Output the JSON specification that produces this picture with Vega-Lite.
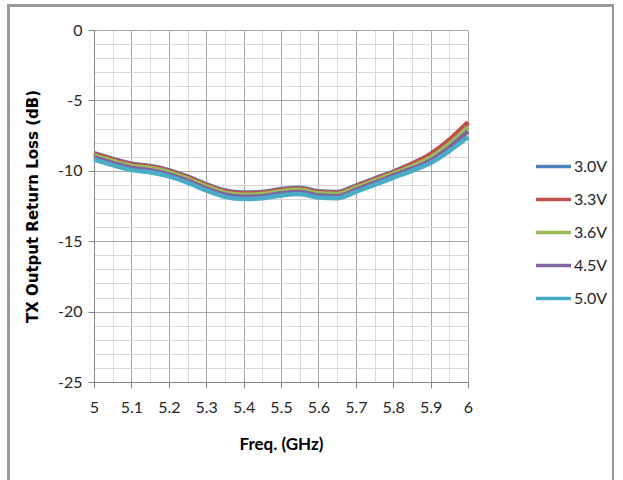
{
  "$schema": "https://vega.github.io/schema/vega-lite/v6.json",
  "autosize": "none",
  "width": 374,
  "height": 352,
  "padding": {"left": 94, "top": 30, "right": 155, "bottom": 98},
  "background": "white",
  "config": {"view": {"stroke": null}},
  "data": {"values": [
    {"f":5.00,"v":-8.75,"s":"3.0V"},{"f":5.05,"v":-9.15,"s":"3.0V"},{"f":5.10,"v":-9.50,"s":"3.0V"},{"f":5.15,"v":-9.65,"s":"3.0V"},{"f":5.20,"v":-9.95,"s":"3.0V"},{"f":5.25,"v":-10.40,"s":"3.0V"},{"f":5.30,"v":-10.95,"s":"3.0V"},{"f":5.35,"v":-11.40,"s":"3.0V"},{"f":5.40,"v":-11.55,"s":"3.0V"},{"f":5.45,"v":-11.50,"s":"3.0V"},{"f":5.50,"v":-11.30,"s":"3.0V"},{"f":5.55,"v":-11.20,"s":"3.0V"},{"f":5.60,"v":-11.45,"s":"3.0V"},{"f":5.65,"v":-11.50,"s":"3.0V"},{"f":5.70,"v":-11.05,"s":"3.0V"},{"f":5.75,"v":-10.55,"s":"3.0V"},{"f":5.80,"v":-10.05,"s":"3.0V"},{"f":5.85,"v":-9.50,"s":"3.0V"},{"f":5.90,"v":-8.85,"s":"3.0V"},{"f":5.95,"v":-7.85,"s":"3.0V"},{"f":6.00,"v":-6.60,"s":"3.0V"},
    {"f":5.00,"v":-8.80,"s":"3.3V"},{"f":5.05,"v":-9.20,"s":"3.3V"},{"f":5.10,"v":-9.55,"s":"3.3V"},{"f":5.15,"v":-9.70,"s":"3.3V"},{"f":5.20,"v":-10.00,"s":"3.3V"},{"f":5.25,"v":-10.45,"s":"3.3V"},{"f":5.30,"v":-11.00,"s":"3.3V"},{"f":5.35,"v":-11.45,"s":"3.3V"},{"f":5.40,"v":-11.60,"s":"3.3V"},{"f":5.45,"v":-11.55,"s":"3.3V"},{"f":5.50,"v":-11.35,"s":"3.3V"},{"f":5.55,"v":-11.25,"s":"3.3V"},{"f":5.60,"v":-11.50,"s":"3.3V"},{"f":5.65,"v":-11.55,"s":"3.3V"},{"f":5.70,"v":-11.10,"s":"3.3V"},{"f":5.75,"v":-10.60,"s":"3.3V"},{"f":5.80,"v":-10.10,"s":"3.3V"},{"f":5.85,"v":-9.50,"s":"3.3V"},{"f":5.90,"v":-8.80,"s":"3.3V"},{"f":5.95,"v":-7.80,"s":"3.3V"},{"f":6.00,"v":-6.55,"s":"3.3V"},
    {"f":5.00,"v":-8.90,"s":"3.6V"},{"f":5.05,"v":-9.30,"s":"3.6V"},{"f":5.10,"v":-9.65,"s":"3.6V"},{"f":5.15,"v":-9.80,"s":"3.6V"},{"f":5.20,"v":-10.10,"s":"3.6V"},{"f":5.25,"v":-10.55,"s":"3.6V"},{"f":5.30,"v":-11.10,"s":"3.6V"},{"f":5.35,"v":-11.55,"s":"3.6V"},{"f":5.40,"v":-11.70,"s":"3.6V"},{"f":5.45,"v":-11.65,"s":"3.6V"},{"f":5.50,"v":-11.45,"s":"3.6V"},{"f":5.55,"v":-11.35,"s":"3.6V"},{"f":5.60,"v":-11.60,"s":"3.6V"},{"f":5.65,"v":-11.65,"s":"3.6V"},{"f":5.70,"v":-11.20,"s":"3.6V"},{"f":5.75,"v":-10.70,"s":"3.6V"},{"f":5.80,"v":-10.20,"s":"3.6V"},{"f":5.85,"v":-9.68,"s":"3.6V"},{"f":5.90,"v":-9.05,"s":"3.6V"},{"f":5.95,"v":-8.10,"s":"3.6V"},{"f":6.00,"v":-6.90,"s":"3.6V"},
    {"f":5.00,"v":-9.05,"s":"4.5V"},{"f":5.05,"v":-9.45,"s":"4.5V"},{"f":5.10,"v":-9.80,"s":"4.5V"},{"f":5.15,"v":-9.95,"s":"4.5V"},{"f":5.20,"v":-10.25,"s":"4.5V"},{"f":5.25,"v":-10.70,"s":"4.5V"},{"f":5.30,"v":-11.25,"s":"4.5V"},{"f":5.35,"v":-11.70,"s":"4.5V"},{"f":5.40,"v":-11.85,"s":"4.5V"},{"f":5.45,"v":-11.80,"s":"4.5V"},{"f":5.50,"v":-11.60,"s":"4.5V"},{"f":5.55,"v":-11.50,"s":"4.5V"},{"f":5.60,"v":-11.75,"s":"4.5V"},{"f":5.65,"v":-11.80,"s":"4.5V"},{"f":5.70,"v":-11.35,"s":"4.5V"},{"f":5.75,"v":-10.85,"s":"4.5V"},{"f":5.80,"v":-10.35,"s":"4.5V"},{"f":5.85,"v":-9.85,"s":"4.5V"},{"f":5.90,"v":-9.27,"s":"4.5V"},{"f":5.95,"v":-8.35,"s":"4.5V"},{"f":6.00,"v":-7.20,"s":"4.5V"},
    {"f":5.00,"v":-9.20,"s":"5.0V"},{"f":5.05,"v":-9.60,"s":"5.0V"},{"f":5.10,"v":-9.95,"s":"5.0V"},{"f":5.15,"v":-10.10,"s":"5.0V"},{"f":5.20,"v":-10.40,"s":"5.0V"},{"f":5.25,"v":-10.85,"s":"5.0V"},{"f":5.30,"v":-11.40,"s":"5.0V"},{"f":5.35,"v":-11.85,"s":"5.0V"},{"f":5.40,"v":-12.00,"s":"5.0V"},{"f":5.45,"v":-11.95,"s":"5.0V"},{"f":5.50,"v":-11.75,"s":"5.0V"},{"f":5.55,"v":-11.65,"s":"5.0V"},{"f":5.60,"v":-11.90,"s":"5.0V"},{"f":5.65,"v":-11.95,"s":"5.0V"},{"f":5.70,"v":-11.50,"s":"5.0V"},{"f":5.75,"v":-11.00,"s":"5.0V"},{"f":5.80,"v":-10.50,"s":"5.0V"},{"f":5.85,"v":-10.00,"s":"5.0V"},{"f":5.90,"v":-9.45,"s":"5.0V"},{"f":5.95,"v":-8.60,"s":"5.0V"},{"f":6.00,"v":-7.60,"s":"5.0V"}
  ]},
  "layer": [
    {
      "mark": {"type": "rect", "filled": false, "stroke": "#9a9a9a", "strokeWidth": 2, "clip": false},
      "encoding": {
        "x": {"datum": 4.7714, "type": "quantitative",
          "scale": {"domain": [5, 6], "nice": false, "zero": false},
          "axis": {"orient": "bottom", "values": [5.05,5.15,5.25,5.35,5.45,5.55,5.65,5.75,5.85,5.95], "grid": true, "gridColor": "#d9d9d9", "ticks": false, "labels": false, "domain": false, "title": null}},
        "x2": {"datum": 6.3877},
        "y": {"datum": 1.74, "type": "quantitative",
          "scale": {"domain": [-25, 0], "nice": false, "zero": false},
          "axis": {"orient": "left", "values": [-24,-23,-22,-21,-19,-18,-17,-16,-14,-13,-12,-11,-9,-8,-7,-6,-4,-3,-2,-1], "grid": true, "gridColor": "#d9d9d9", "ticks": false, "labels": false, "domain": false, "title": null}},
        "y2": {"datum": -32.24}
      }
    },
    {
      "mark": {"type": "line", "strokeWidth": 4.5, "interpolate": "monotone"},
      "encoding": {
        "x": {"field": "f", "type": "quantitative",
          "axis": {"orient": "bottom", "values": [5,5.1,5.2,5.3,5.4,5.5,5.6,5.7,5.8,5.9,6], "labelExpr": "datum.value + ''", "grid": true, "gridColor": "#a8a8a8", "domainColor": "#868686", "tickColor": "#868686", "tickSize": 6, "labelFont": "Lato", "labelFontSize": 16, "labelColor": "#262626", "labelPadding": 11, "labelFlush": false, "labelOverlap": false, "title": "Freq. (GHz)", "titleFont": "Lato", "titleFontSize": 17, "titleFontWeight": "bold", "titleColor": "#000000", "titlePadding": 21}},
        "y": {"field": "v", "type": "quantitative",
          "axis": {"orient": "left", "values": [-25,-20,-15,-10,-5,0], "labelExpr": "datum.value + ''", "grid": true, "gridColor": "#a8a8a8", "domainColor": "#868686", "tickColor": "#868686", "tickSize": 6, "labelFont": "Lato", "labelFontSize": 16, "labelColor": "#262626", "labelPadding": 6, "labelFlush": false, "labelOverlap": false, "title": "TX Output Return Loss (dB)", "titleFont": "DejaVu Sans", "titleFontSize": 15, "titleFontWeight": "bold", "titleColor": "#000000", "titlePadding": 17}},
        "color": {"field": "s", "type": "nominal",
          "scale": {"domain": ["3.0V","3.3V","3.6V","4.5V","5.0V"], "range": ["#4F81BD","#C0504D","#9BBB59","#8064A2","#4BACC6"]},
          "legend": {"title": null, "orient": "none", "legendX": 440, "legendY": 117, "padding": 0, "symbolType": "stroke", "symbolSize": 1225, "symbolStrokeWidth": 3.5, "rowPadding": 5, "labelOffset": 1, "labelFont": "Lato", "labelFontSize": 16, "labelColor": "#262626"}}
      }
    }
  ],
  "resolve": {"axis": {"x": "independent", "y": "independent"}}
}
